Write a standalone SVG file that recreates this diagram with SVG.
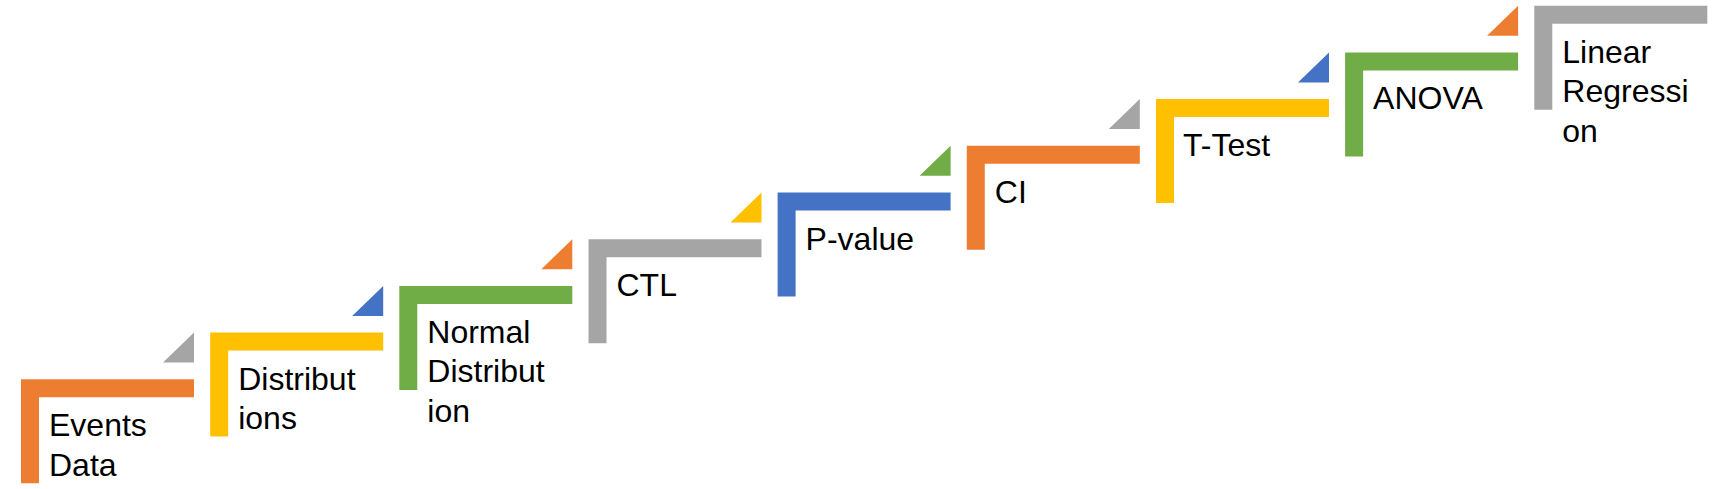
<svg xmlns="http://www.w3.org/2000/svg" xmlns:xlink="http://www.w3.org/1999/xlink" width="1725" height="489" viewBox="0 0 1725 489">
<style>
.t{font-family:"Liberation Sans",Arial,sans-serif;font-size:32px;fill:#000}
.or{fill:#ED7D31}.ye{fill:#FFC000}.gr{fill:#70AD47}.ga{fill:#A5A5A5}.bl{fill:#4472C4}
</style>
<defs>
<path id="L" d="M0 0H173V18H18V104H0Z"/>
<path id="T" d="M173 -46.7V-16.7H142Z"/>
</defs>
<rect width="1725" height="489" fill="#fff"/>
<g id="connectors"/>
<g id="step-events-data" transform="translate(21,379.3)">
<use xlink:href="#L" class="or"/><use xlink:href="#T" class="ga"/>
<text class="t" x="28" y="57">Events</text><text class="t" x="28" y="96.5">Data</text>
</g>
<g id="step-distributions" transform="translate(210.2,332.6)">
<use xlink:href="#L" class="ye"/><use xlink:href="#T" class="bl"/>
<text class="t" x="28" y="57">Distribut</text><text class="t" x="28" y="96.5">ions</text>
</g>
<g id="step-normal-distribution" transform="translate(399.3,285.9)">
<use xlink:href="#L" class="gr"/><use xlink:href="#T" class="or"/>
<text class="t" x="28" y="57">Normal</text><text class="t" x="28" y="96.5">Distribut</text><text class="t" x="28" y="136">ion</text>
</g>
<g id="step-ctl" transform="translate(588.5,239.2)">
<use xlink:href="#L" class="ga"/><use xlink:href="#T" class="ye"/>
<text class="t" x="28" y="57">CTL</text>
</g>
<g id="step-p-value" transform="translate(777.6,192.5)">
<use xlink:href="#L" class="bl"/><use xlink:href="#T" class="gr"/>
<text class="t" x="28" y="57">P-value</text>
</g>
<g id="step-ci" transform="translate(966.8,145.8)">
<use xlink:href="#L" class="or"/><use xlink:href="#T" class="ga"/>
<text class="t" x="28" y="57">CI</text>
</g>
<g id="step-t-test" transform="translate(1156,99.1)">
<use xlink:href="#L" class="ye"/><use xlink:href="#T" class="bl"/>
<text class="t" x="27" y="57">T-Test</text>
</g>
<g id="step-anova" transform="translate(1345.1,52.4)">
<use xlink:href="#L" class="gr"/><use xlink:href="#T" class="or"/>
<text class="t" x="28" y="57">ANOVA</text>
</g>
<g id="step-linear-regression" transform="translate(1534.3,5.7)">
<use xlink:href="#L" class="ga"/>
<text class="t" x="28" y="57">Linear</text><text class="t" x="28" y="96.5">Regressi</text><text class="t" x="28" y="136">on</text>
</g>
</svg>
